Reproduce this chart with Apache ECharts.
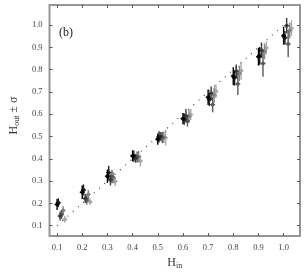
<!DOCTYPE html>
<html><head><meta charset="utf-8">
<script src="https://cdn.jsdelivr.net/npm/echarts@6/dist/echarts.min.js"></script>
<style>html,body{margin:0;padding:0;background:#fff}#c{width:306px;height:275px}</style>
</head><body><div id="c"></div>
<script>
const hIn = [0.1,0.2,0.3,0.4,0.5,0.6,0.7,0.8,0.9,1.0];
const tickValues = [0.1,0.2,0.3,0.4,0.5,0.6,0.7,0.8,0.9,1.0];
const xOffsets = [0, 0.005, 0.012, 0.018, 0.024, 0.031];
const s1 = [0.195,0.250,0.322,0.413,0.488,0.580,0.676,0.771,0.858,0.952];
const s1err = [0.025,0.030,0.030,0.025,0.025,0.025,0.035,0.040,0.040,0.040];
const s2 = [0.203,0.260,0.338,0.412,0.498,0.578,0.666,0.763,0.862,0.943];
const s2err = [0.020,0.025,0.030,0.025,0.025,0.025,0.030,0.035,0.040,0.030];
const s3 = [0.143,0.222,0.305,0.402,0.500,0.593,0.694,0.793,0.887,0.997];
const s3err = [0.020,0.020,0.025,0.020,0.020,0.030,0.030,0.030,0.035,0.035];
const s4 = [0.150,0.215,0.320,0.408,0.495,0.570,0.643,0.736,0.828,0.915];
const s4err = [0.020,0.020,0.030,0.025,0.025,0.025,0.035,0.050,0.060,0.060];
const s5 = [0.168,0.240,0.315,0.410,0.497,0.590,0.685,0.783,0.882,0.975];
const s5err = [0.020,0.020,0.025,0.025,0.025,0.030,0.035,0.035,0.035,0.035];
const s6 = [0.128,0.207,0.298,0.390,0.494,0.598,0.703,0.795,0.897,0.986];
const s6err = [0.015,0.015,0.020,0.025,0.035,0.025,0.030,0.040,0.030,0.035];
const seriesVals = [s1,s2,s3,s4,s5,s6];
const seriesErrs = [s1err,s2err,s3err,s4err,s5err,s6err];
const colors = ['#000000','#1e1e1e','#3c3c3c','#5a5a5a','#858585','#a8a8a8'];
const diag = [[0.1,0.1],[1.0,1.0]];

const font = 'Liberation Serif, DejaVu Serif, serif';
function errSeries(k){
  const data = hIn.map((h,i)=>[h+xOffsets[k], seriesVals[k][i], seriesErrs[k][i]]);
  return {
    type:'custom', xAxisIndex:0, yAxisIndex:0, z: 10-k,
    data: data,
    renderItem: function(params, api){
      const x = api.value(0), y = api.value(1), e = api.value(2);
      const p = api.coord([x,y]);
      const lo = api.coord([x,y-e]);
      const hi = api.coord([x,y+e]);
      const c = colors[k];
      return {type:'group', children:[
        {type:'line', shape:{x1:p[0],y1:hi[1],x2:p[0],y2:lo[1]}, style:{stroke:c,lineWidth:1.4}},
        {type:'line', shape:{x1:p[0]-2.5,y1:p[1],x2:p[0]+2.5,y2:p[1]}, style:{stroke:c,lineWidth:1.2}},
        {type:'circle', shape:{cx:p[0],cy:p[1],r:1.9}, style:{fill:c}}
      ]};
    }
  };
}
const chart = echarts.init(document.getElementById('c'));
chart.setOption({
  animation:false,
  backgroundColor:'#fff',
  grid:{left:41, right:6, top:5, bottom:28, show:true, borderColor:'#969696', borderWidth:2, backgroundColor:'transparent'},
  xAxis:[{
    type:'value', min:0.07, max:1.065, position:'bottom',
    name:'{m|H}{s|in}', nameLocation:'middle', nameGap:16,
    nameTextStyle:{rich:{m:{fontFamily:font,fontSize:12,color:'#333'}, s:{fontFamily:font,fontSize:8,color:'#333',verticalAlign:'bottom',padding:[6,0,0,0]}}},
    splitLine:{show:false}, axisLine:{show:false},
    axisTick:{show:true, inside:true, length:3, customValues:tickValues, lineStyle:{color:'#555'}},
    axisLabel:{customValues:tickValues, fontFamily:font, fontSize:8.5, color:'#444', margin:7, formatter:v=>v.toFixed(1)}
  },{
    type:'value', min:0.07, max:1.065, position:'top',
    splitLine:{show:false}, axisLine:{show:false},
    axisTick:{show:true, inside:true, length:3, customValues:tickValues, lineStyle:{color:'#555'}},
    axisLabel:{show:false}
  }],
  yAxis:[{
    type:'value', min:0.053, max:1.09, position:'left',
    name:'{m|H}{s|out}{m| ± σ}', nameLocation:'middle', nameGap:27, nameRotate:90,
    nameTextStyle:{padding:[0,0,0,10], rich:{m:{fontFamily:font,fontSize:12,color:'#333'}, s:{fontFamily:font,fontSize:8,color:'#333',verticalAlign:'bottom',padding:[6,0,0,0]}}},
    splitLine:{show:false}, axisLine:{show:false},
    axisTick:{show:true, inside:true, length:3, customValues:tickValues, lineStyle:{color:'#555'}},
    axisLabel:{customValues:tickValues, fontFamily:font, fontSize:8.5, color:'#444', margin:7, formatter:v=>v.toFixed(1)}
  },{
    type:'value', min:0.053, max:1.09, position:'right',
    splitLine:{show:false}, axisLine:{show:false},
    axisTick:{show:true, inside:true, length:3, customValues:tickValues, lineStyle:{color:'#555'}},
    axisLabel:{show:false}
  }],
  graphic:[{type:'text', left:59, top:27, style:{text:'(b)', font:'12px '+font, fill:'#222'}}],
  series:[
    {type:'line', data:diag, symbol:'none', xAxisIndex:0, yAxisIndex:0, z:1,
     lineStyle:{color:'#444', width:1.2, type:[1,6]}},
    errSeries(5), errSeries(4), errSeries(3), errSeries(2), errSeries(1), errSeries(0)
  ]
});
</script></body></html>
